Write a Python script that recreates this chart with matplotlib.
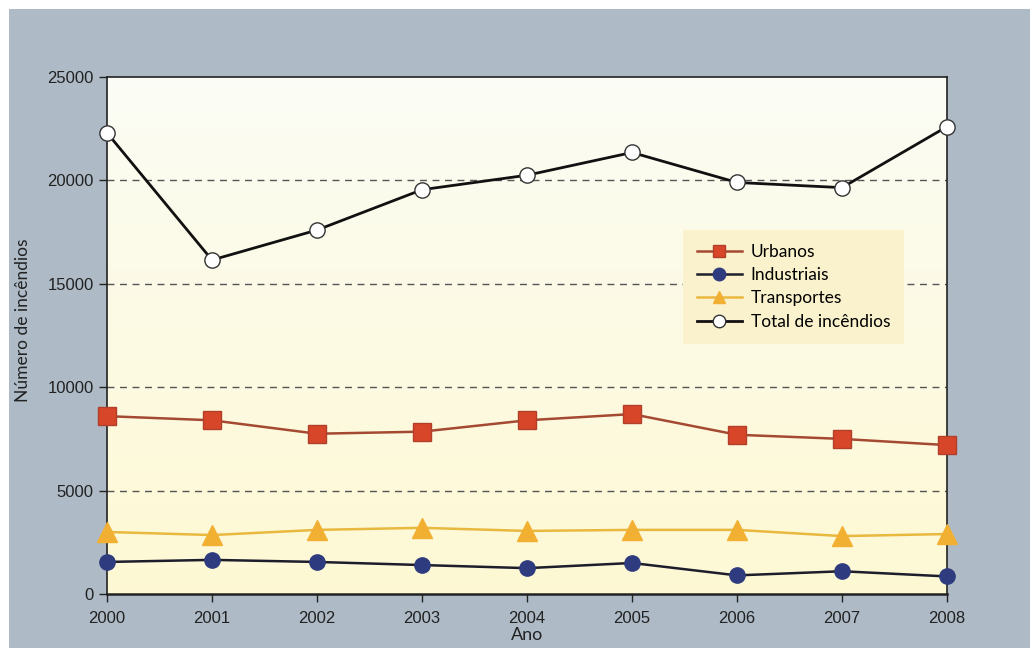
import numpy as np
import matplotlib
matplotlib.use("Agg")
import matplotlib.pyplot as plt
from matplotlib.patches import Rectangle

anos = [2000, 2001, 2002, 2003, 2004, 2005, 2006, 2007, 2008]
urbanos = [8600, 8400, 7750, 7850, 8400, 8700, 7700, 7500, 7200]
industriais = [1550, 1650, 1550, 1400, 1250, 1500, 900, 1100, 850]
transportes = [3000, 2850, 3100, 3200, 3050, 3100, 3100, 2800, 2900]
total = [22300, 16150, 17600, 19550, 20250, 21350, 19900, 19650, 22600]

yticks = [0, 5000, 10000, 15000, 20000, 25000]
grid_vals = [5000, 10000, 15000, 20000]

fig = plt.figure(figsize=(10.3, 6.48), dpi=100, facecolor="white")
# scanned grey-blue page
fig.patches.append(Rectangle((9/1030, 0), 1, 1 - 9/648, transform=fig.transFigure,
                             facecolor="#aebbc7", edgecolor="none", zorder=-10))

ax = fig.add_axes([107/1030, 54/648, 840/1030, 517/648])

# background gradient: almost white on top, pale yellow at the bottom
grad = np.linspace(0, 1, 256).reshape(-1, 1)
top = np.array([0.985, 0.99, 0.965])
bot = np.array([0.995, 0.975, 0.83])
img = top + (bot - top) * grad[..., None] ** 0.9
img = img.reshape(256, 1, 3)
ax.imshow(img, extent=[0, 1, 0, 1], transform=ax.transAxes, aspect="auto", zorder=0)

for g in grid_vals:
    ax.axhline(g, color="#555555", lw=1.0, ls=(0, (5, 4)), zorder=1)

ax.plot(anos, urbanos, color="#a54a32", lw=1.8, marker="s", ms=13,
        mfc="#d8462a", mec="#b0402a", label="Urbanos", clip_on=False, zorder=4)
ax.plot(anos, industriais, color="#1d1d2c", lw=1.8, marker="o", ms=11,
        mfc="#2e3b7e", mec="#2e3b7e", label="Industriais", clip_on=False, zorder=4)
ax.plot(anos, transportes, color="#e9b83e", lw=1.8, marker="^", ms=15,
        mfc="#f2b032", mec="#f2b032", label="Transportes", clip_on=False, zorder=4)
ax.plot(anos, total, color="#111111", lw=2.0, marker="o", ms=11,
        mfc="white", mec="#333333", mew=1.0, label="Total de incêndios",
        clip_on=False, zorder=5)

ax.set_xlim(2000, 2008)
ax.set_ylim(0, 25000)
ax.set_xticks(anos)
ax.set_yticks(yticks)
ax.tick_params(axis="both", direction="out", length=6, width=1, labelsize=12,
               color="#222222", labelcolor="#222222")
ax.tick_params(axis="x", pad=6)
for lab in ax.get_xticklabels() + ax.get_yticklabels():
    lab.set_family("Liberation Sans")

for s in ax.spines.values():
    s.set_color("#222222")
    s.set_linewidth(1.2)
ax.spines["bottom"].set_linewidth(1.8)

ax.set_xlabel("Ano", fontsize=13, family="Lato", color="#222222", labelpad=1)
ax.set_ylabel("Número de incêndios", fontsize=12.5, family="Lato", color="#222222")
ax.yaxis.set_label_coords(-0.09, 0.53)

leg = ax.legend(loc="upper left", bbox_to_anchor=(683/1030, 1 - 230/648),
                bbox_transform=fig.transFigure, borderaxespad=0, frameon=True,
                fancybox=False, handlelength=2.6, handletextpad=0.5,
                labelspacing=0.42, borderpad=0.8, prop={"family": "Lato", "size": 12.5})
leg.get_frame().set_facecolor("#faf2cc")
leg.get_frame().set_edgecolor("none")
leg.get_frame().set_alpha(1)
for h in leg.legend_handles:
    h.set_markersize(9)

fig.savefig("out.png", dpi=100)
